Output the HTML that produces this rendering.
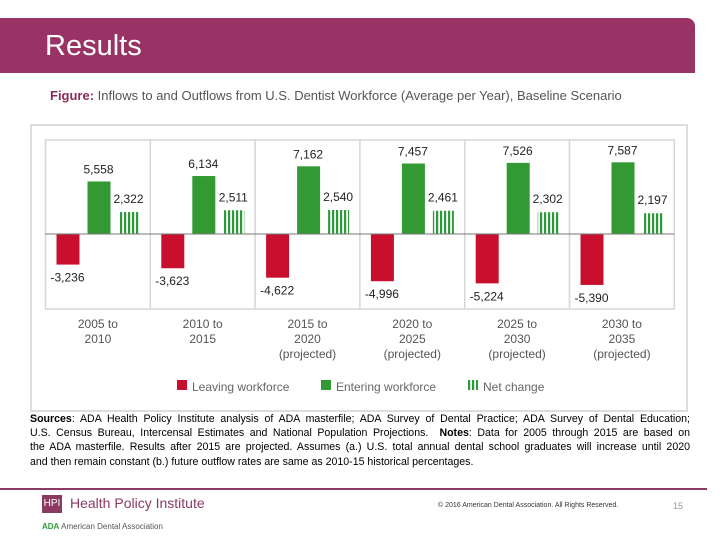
<!DOCTYPE html>
<html><head><meta charset="utf-8"><style>
body{margin:0;width:720px;height:540px;background:#fff;position:relative;overflow:hidden;font-family:"Liberation Sans",sans-serif}
.abs{position:absolute}
.ln{white-space:nowrap;text-align:justify;text-align-last:justify;height:14.2px}
.ln.last{text-align-last:left}
</style></head><body>
<div class="abs" style="left:0;top:18px;width:695px;height:55px;background:#993366;border-top-right-radius:8px"></div>
<div class="abs" style="left:45px;top:30px;color:#fff;font-size:29px">Results</div>
<div class="abs" style="left:50px;top:88px;font-size:13px;color:#555"><b style="color:#8b2d5a">Figure:</b> Inflows to and Outflows from U.S. Dentist Workforce (Average per Year), Baseline Scenario</div>
<div class="abs" style="left:30px;top:124px;width:658px;height:288px;border:2px solid #ddd;box-sizing:border-box"></div>
<svg class="abs" style="left:0;top:0" width="720" height="540">
<defs><pattern id="vs" width="4" height="4" patternUnits="userSpaceOnUse"><rect width="4" height="4" fill="#fff"/><rect width="2.2" height="4" fill="#2e9a3a"/></pattern></defs>
<g id="g"></g>
</svg>
<div class="abs" style="left:30px;top:412px;width:660px;font-size:10.6px;line-height:14.2px;color:#000">
<div class="ln"><b>Sources</b>: ADA Health Policy Institute analysis of ADA masterfile; ADA Survey of Dental Practice; ADA Survey of Dental Education;</div>
<div class="ln">U.S. Census Bureau, Intercensal Estimates and National Population Projections. &nbsp;<b>Notes</b>: Data for 2005 through 2015 are based on</div>
<div class="ln">the ADA masterfile. Results after 2015 are projected. Assumes (a.) U.S. total annual dental school graduates will increase until 2020</div>
<div class="ln last">and then remain constant (b.) future outflow rates are same as 2010-15 historical percentages.</div>
</div>
<div class="abs" style="left:0;top:488px;width:707px;height:2px;background:#8b3a62"></div>
<div class="abs" style="left:42px;top:495px;width:20px;height:18px;background:#8b3a62;color:#fff;font-size:10px;line-height:18px;text-align:center">HPI</div>
<div class="abs" style="left:70px;top:495px;font-size:14px;color:#8b3a62">Health Policy Institute</div>
<div class="abs" style="left:42px;top:522px;font-size:8px;color:#555"><b style="color:#2e9a3a">ADA</b> American Dental Association</div>
<div class="abs" style="left:438px;top:502px;font-size:7px;color:#333">© 2016 American Dental Association. All Rights Reserved.</div>
<div class="abs" style="left:673px;top:501px;font-size:9px;color:#999">15</div>
<script>
const categories=[["2005 to","2010"],["2010 to","2015"],["2015 to","2020","(projected)"],["2020 to","2025","(projected)"],["2025 to","2030","(projected)"],["2030 to","2035","(projected)"]];
const leaving=[-3236,-3623,-4622,-4996,-5224,-5390];
const entering=[5558,6134,7162,7457,7526,7587];
const net=[2322,2511,2540,2461,2302,2197];
const fmt=v=>(v<0?"-":"")+Math.abs(v).toLocaleString("en-US");
const L=45.5,T=140,B=309,CW=104.8,Z=234,K=0.00945;
const y=v=>Z-v*K;
const g=document.getElementById('g');
const NS="http://www.w3.org/2000/svg";
function el(t,a,txt){const e=document.createElementNS(NS,t);for(const k in a)e.setAttribute(k,a[k]);if(txt!==undefined)e.textContent=txt;g.appendChild(e);return e;}
let box=el('rect',{x:L,y:T,width:CW*6,height:B-T,fill:'none',stroke:'#d6d6d6','stroke-width':1.5});


categories.forEach((c,i)=>{
 const x0=L+i*CW;
 if(i>0){const d=el('line',{x1:x0,x2:x0,y1:T,y2:B,stroke:'#d6d6d6','stroke-width':1.5});
 
 }
 const r=el('rect',{x:x0+11,y:Z,width:23,height:y(leaving[i])-Z,fill:'#c8102e'});
 
 
 const gr=el('rect',{x:x0+42,y:y(entering[i]),width:23,height:Z-y(entering[i]),fill:'#339933'});
 
 
 const n=el('rect',{x:x0+73,y:y(net[i]),width:21,height:Z-y(net[i]),fill:'url(#vs)'});
 
 
 const t1=el('text',{x:x0+5,y:y(leaving[i])+17,'font-size':12,fill:'#222'},fmt(leaving[i]));
 
 
 const t2=el('text',{x:x0+53,y:y(entering[i])-8,'font-size':12,fill:'#222','text-anchor':'middle'},fmt(entering[i]));
 
 
 const t3=el('text',{x:x0+83,y:y(net[i])-9,'font-size':12,fill:'#222','text-anchor':'middle'},fmt(net[i]));
 
 
 c.forEach((s,j)=>{const t=el('text',{x:x0+CW/2,y:328+j*15,'font-size':12,fill:'#555','text-anchor':'middle'},s);
 
 });
});
const z=el('line',{x1:L,x2:L+CW*6,y1:Z,y2:Z,stroke:'#777','stroke-width':1});


const leg=[['#c8102e','Leaving workforce',177],['#339933','Entering workforce',321],['url(#vs)','Net change',468]];
leg.forEach(l=>{const s=el('rect',{x:l[2],y:380,width:10,height:10,fill:l[0]});
 
 
 const t=el('text',{x:l[2]+15,y:391,'font-size':12,fill:'#666'},l[1]);
 
 });
</script>
</body></html>
